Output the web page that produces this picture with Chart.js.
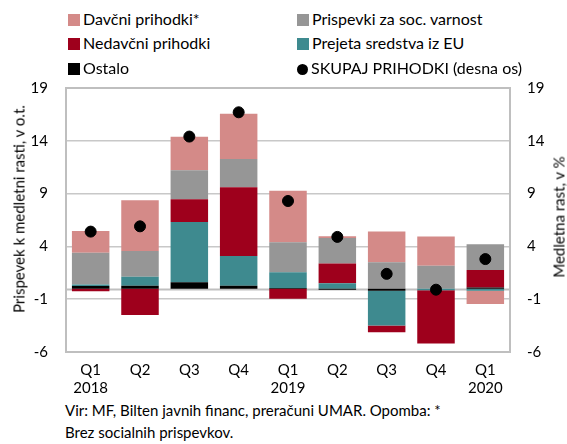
<!DOCTYPE html>
<html>
<head>
<meta charset="utf-8">
<script src="https://cdn.jsdelivr.net/npm/chart.js@4.4.1/dist/chart.umd.min.js"></script>
<style>
  body { margin: 0; background: #fff; font-family: "Lato", "Open Sans", sans-serif; }
  #wrap { position: relative; width: 567px; height: 444px; overflow: hidden; }
  .leg { position: absolute; font-size: 16px; color: #000; white-space: nowrap; z-index: 2; }
  .leg i { display: inline-block; width: 12px; height: 12px; margin-right: 3px; vertical-align: -1px; }
  .leg i.dot { border-radius: 50%; width: 11px; height: 11px; }
  #chartBox { position: absolute; left: 0; top: 61px; width: 567px; height: 339px; }
  .note { position: absolute; left: 65px; font-size: 15px; color: #000; white-space: nowrap; }
  .ytitle { position: absolute; font-size: 15px; color: #000; white-space: nowrap;
            transform: translate(-50%, -50%) rotate(-90deg); z-index: 2; line-height: 1; }
</style>
</head>
<body>
<div id="wrap">
  <div id="chartBox"><canvas id="c"></canvas></div>
  <div class="leg" style="left:68px;top:9px"><i style="background:#d48a88"></i>Davčni prihodki*</div>
  <div class="leg" style="left:297px;top:9px"><i style="background:#969696"></i>Prispevki za soc. varnost</div>
  <div class="leg" style="left:68px;top:33px"><i style="background:#9e001c"></i>Nedavčni prihodki</div>
  <div class="leg" style="left:297px;top:33px"><i style="background:#3e8a8f"></i>Prejeta sredstva iz EU</div>
  <div class="leg" style="left:68px;top:58px"><i style="background:#000"></i>Ostalo</div>
  <div class="leg" style="left:297px;top:58px"><i class="dot" style="background:#000"></i>SKUPAJ PRIHODKI (desna os)</div>
  <div class="ytitle" style="left:19px;top:209px">Prispevek k medletni rasti, v o.t.</div>
  <div class="ytitle" style="left:559px;top:217px">Medletna rast, v %</div>
  <div class="note" style="top:401px">Vir: MF, Bilten javnih financ, preračuni UMAR. Opomba: *</div>
  <div class="note" style="top:423px">Brez socialnih prispevkov.</div>
</div>
<script>
// kvartali
const labels = [["Q1", "2018"], "Q2", "Q3", "Q4", ["Q1", "2019"], "Q2", "Q3", "Q4", ["Q1", "2020"]];

// prispevki k rasti, o.t.
const ostalo      = [0.25, 0.28, 0.6, 0.28, 0.05, -0.1, -0.2, 0.0, 0.1];
const sredstvaEU  = [0.15, 0.85, 5.7, 2.8, 1.5, 0.5, -3.3, -0.15, -0.2];
const nedavcni    = [-0.25, -2.5, 2.17, 6.52, -0.95, 1.89, -0.63, -5.04, 1.67];
const prispevki   = [3.0, 2.43, 2.74, 2.68, 2.84, 2.4, 2.49, 2.17, 2.43];
const davcni      = [2.05, 4.82, 3.18, 4.29, 4.89, 0.16, 2.93, 2.77, -1.26];
// skupaj prihodki, medletna rast v %
const skupaj      = [5.4, 5.9, 14.4, 16.7, 8.3, 4.9, 1.4, -0.1, 2.8];

const yTicks = [-6, -1, 4, 9, 14, 19];

const TICK_FONT = { family: "Lato", size: 15 };

// okvir + ničelna črta
const framePlugin = {
  id: "frame",
  beforeDatasetsDraw(chart) {
    const { ctx, chartArea: a, scales } = chart;
    ctx.save();
    ctx.strokeStyle = "#bfbfbf";
    ctx.lineWidth = 2;
    const y0 = Math.round(scales.y.getPixelForValue(0)) + 0.5;
    ctx.beginPath();
    ctx.moveTo(a.left, y0);
    ctx.lineTo(a.right, y0);
    ctx.stroke();
    ctx.restore();
  },
  afterDraw(chart) {
    const { ctx, chartArea: a } = chart;
    ctx.save();
    ctx.strokeStyle = "#bfbfbf";
    ctx.lineWidth = 2;
    ctx.strokeRect(a.left, a.top, a.right - a.left, a.bottom - a.top);
    ctx.restore();
  }
};

const barDs = (label, data, color) => ({
  type: "bar",
  label,
  data,
  backgroundColor: color,
  stack: "s",
  yAxisID: "y",
  barPercentage: 0.76,
  categoryPercentage: 1.0,
  order: 2,
});

new Chart(document.getElementById("c"), {
  data: {
    labels,
    datasets: [
      {
        type: "line",
        label: "SKUPAJ PRIHODKI (desna os)",
        data: skupaj,
        yAxisID: "y2",
        showLine: false,
        pointRadius: 5.5,
        pointBackgroundColor: "#000",
        pointBorderColor: "#000",
        order: 0,
      },
      barDs("Ostalo", ostalo, "#000000"),
      barDs("Prejeta sredstva iz EU", sredstvaEU, "#3e8a8f"),
      barDs("Nedavčni prihodki", nedavcni, "#9e001c"),
      barDs("Prispevki za soc. varnost", prispevki, "#969696"),
      barDs("Davčni prihodki*", davcni, "#d48a88"),
    ],
  },
  options: {
    responsive: true,
    maintainAspectRatio: false,
    animation: false,
    layout: { padding: { top: 0, right: 0, left: 0, bottom: 0 } },
    plugins: { legend: { display: false }, tooltip: { enabled: false } },
    scales: {
      x: {
        stacked: true,
        grid: { display: false, drawTicks: false },
        border: { display: false },
        ticks: { color: "#000", font: TICK_FONT, padding: 9, maxRotation: 0 },
        afterFit: (s) => { s.height = 48; },
      },
      y: {
        stacked: true,
        position: "left",
        min: -6,
        max: 19,
        afterBuildTicks: (s) => { s.ticks = yTicks.map((v) => ({ value: v })); },
        grid: { color: "#c8c8c8", lineWidth: 1.5, drawTicks: false },
        border: { display: false },
        ticks: { color: "#000", font: TICK_FONT, padding: 18 },
        afterFit: (s) => { s.width = 66; },
      },
      y2: {
        position: "right",
        min: -6,
        max: 19,
        afterBuildTicks: (s) => { s.ticks = yTicks.map((v) => ({ value: v })); },
        grid: { display: false, drawTicks: false },
        border: { display: false },
        ticks: { color: "#000", font: TICK_FONT, padding: 17 },
        afterFit: (s) => { s.width = 57; },
      },
    },
  },
  plugins: [framePlugin],
});
</script>
</body>
</html>
